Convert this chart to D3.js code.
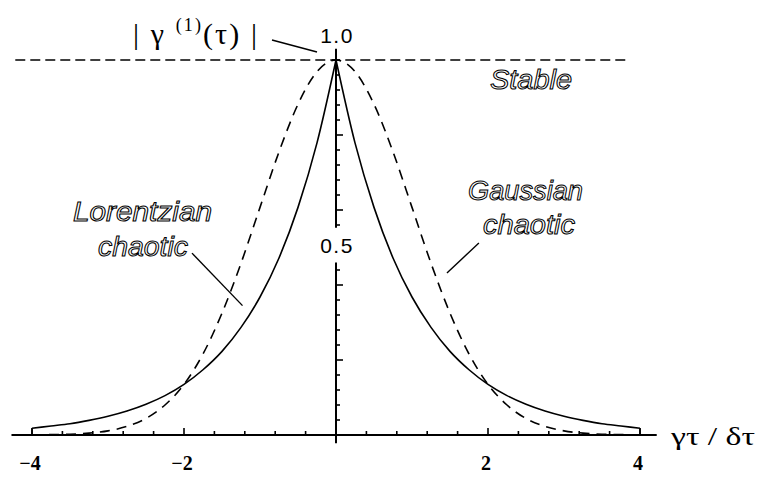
<!DOCTYPE html>
<html>
<head>
<meta charset="utf-8">
<script src="https://cdn.jsdelivr.net/npm/d3@7"></script>
<style>
html,body{margin:0;padding:0;background:#fff;}
svg{display:block;}
</style>
</head>
<body>
<svg id="chart" width="767" height="477"></svg>
<script>
// ---- data ----
const tauValues = [-4,-3.75,-3.5,-3.25,-3,-2.75,-2.5,-2.25,-2,-1.75,-1.5,-1.25,-1,-0.75,-0.5,-0.25,0,
                   0.25,0.5,0.75,1,1.25,1.5,1.75,2,2.25,2.5,2.75,3,3.25,3.5,3.75,4];
const lorentzianValues = [0.018,0.024,0.030,0.039,0.050,0.064,0.082,0.105,0.135,0.174,0.223,0.287,0.368,0.472,0.607,0.779,1.0,
                          0.779,0.607,0.472,0.368,0.287,0.223,0.174,0.135,0.105,0.082,0.064,0.050,0.039,0.030,0.024,0.018];
const gaussianValues = [0.000,0.001,0.002,0.005,0.011,0.023,0.044,0.080,0.135,0.216,0.325,0.458,0.607,0.755,0.882,0.969,1.0,
                        0.969,0.882,0.755,0.607,0.458,0.325,0.216,0.135,0.080,0.044,0.023,0.011,0.005,0.002,0.001,0.000];
const stableValue = 1.0;
const xTickLabels = [-4,-2,2,4];
const yTickLabels = [0.5,1.0];

const svg = d3.select("#chart");
const x = d3.scaleLinear().domain([-4,4]).range([32,640]);
const y = d3.scaleLinear().domain([0,1]).range([435,60]);

const lor = tauValues.map((t,i)=>({t, v: lorentzianValues[i]}));
const gau = tauValues.map((t,i)=>({t, v: gaussianValues[i]}));

const line = d3.line().x(d=>x(d.t)).y(d=>y(d.v)).curve(d3.curveMonotoneX);

// Stable (dashed horizontal)
svg.append("line")
  .attr("x1", x(-4.22)).attr("x2", x(3.87))
  .attr("y1", y(stableValue)).attr("y2", y(stableValue))
  .attr("stroke","#000").attr("stroke-width",1.6).attr("stroke-dasharray","10,5");

// x axis line
svg.append("line").attr("x1", x(-4.27)).attr("x2", x(4.22))
  .attr("y1", y(0)).attr("y2", y(0)).attr("stroke","#000").attr("stroke-width",2);

// x ticks (every 0.4)
const xt = d3.range(-10,11).map(k=>k*0.4).filter(t=>Math.abs(t)>1e-9);
svg.selectAll(".xt").data(xt).enter().append("line")
  .attr("x1", d=>x(d)).attr("x2", d=>x(d))
  .attr("y1", y(0)).attr("y2", d=> (Math.abs(Math.round(d/2)*2 - d) < 1e-6) ? y(0)-7 : y(0)-4)
  .attr("stroke","#000").attr("stroke-width",1.6);

// y axis (broken around 0.5 label)
svg.append("line").attr("x1", x(0)).attr("x2", x(0))
  .attr("y1", y(1.03)).attr("y2", y(0.553)).attr("stroke","#000").attr("stroke-width",2);
svg.append("line").attr("x1", x(0)).attr("x2", x(0))
  .attr("y1", y(0.46)).attr("y2", y(-0.022)).attr("stroke","#000").attr("stroke-width",2);

// y ticks every 0.04
const yt = d3.range(1,26).map(k=>k*0.04).filter(v=>!(v>0.46 && v<0.553) && v<0.99);
svg.selectAll(".yt").data(yt).enter().append("line")
  .attr("x1", x(0)).attr("x2", d=> (Math.abs(Math.round(d/0.2)*0.2 - d) < 1e-6) ? x(0)+7 : x(0)+4)
  .attr("y1", d=>y(d)).attr("y2", d=>y(d))
  .attr("stroke","#000").attr("stroke-width",1.6);
// tick at 1.0 (cross)
svg.append("line").attr("x1", x(0)-4).attr("x2", x(0)+4)
  .attr("y1", y(1)).attr("y2", y(1)).attr("stroke","#000").attr("stroke-width",1.6);

// Gaussian chaotic (dashed)
svg.append("path").datum(gau).attr("d", line)
  .attr("fill","none").attr("stroke","#000").attr("stroke-width",1.6).attr("stroke-dasharray","10,7");

// Lorentzian chaotic (solid), drawn as two halves to keep the cusp
const left = lor.filter(d=>d.t<=0), right = lor.filter(d=>d.t>=0);
[left,right].forEach(h=>{
  svg.append("path").datum(h).attr("d", line)
    .attr("fill","none").attr("stroke","#000").attr("stroke-width",1.6);
});
// end drops to axis
[lor[0], lor[lor.length-1]].forEach(d=>{
  svg.append("line").attr("x1", x(d.t)).attr("x2", x(d.t))
    .attr("y1", y(d.v)).attr("y2", y(0)).attr("stroke","#000").attr("stroke-width",1.6);
});

// x tick labels
svg.selectAll(".xl").data(xTickLabels).enter().append("text")
  .attr("x", d=>x(d)-2).attr("y", 470)
  .attr("text-anchor","middle")
  .attr("font-family","Liberation Serif, serif").attr("font-size",20).attr("font-weight","bold")
  .text(d=> d<0 ? "\u2212"+Math.abs(d) : String(d));

// y tick labels
svg.selectAll(".yl").data(yTickLabels).enter().append("text")
  .attr("x", d=>x(0)+1).attr("y", d=> d===1 ? y(d)-17 : y(d)+5)
  .attr("text-anchor","middle")
  .attr("font-family","Liberation Sans, Arial, sans-serif").attr("font-size",21).attr("letter-spacing",1.5)
  .text(d=>d.toFixed(1));

// axis label
svg.append("text").attr("x",671).attr("y",445)
  .attr("font-family","Liberation Serif, serif").attr("font-size",25)
  .attr("textLength",84).attr("lengthAdjust","spacingAndGlyphs")
  .text("\u03b3\u03c4 / \u03b4\u03c4");

// title |γ(1)(τ)|
const tt = svg.append("text").attr("x",133).attr("y",44)
  .attr("font-family","Liberation Serif, serif").attr("font-size",30)
  .attr("textLength",124).attr("lengthAdjust","spacing");
tt.append("tspan").text("| \u03b3 ");
tt.append("tspan").attr("font-size",18).attr("dy",-13).text("(1)");
tt.append("tspan").attr("dy",13).text("(\u03c4) |");
// title leader
svg.append("line").attr("x1",272).attr("y1",40).attr("x2",317).attr("y2",52)
  .attr("stroke","#000").attr("stroke-width",1.6);

// italic hollow annotation labels
function lab(txt, xx, yy, len){
  svg.append("text").attr("x",xx).attr("y",yy)
    .attr("font-family","Liberation Sans, Arial, sans-serif").attr("font-style","italic")
    .attr("font-size",27).attr("fill","#fff").attr("stroke","#000").attr("stroke-width",1)
    .attr("textLength",len).attr("lengthAdjust","spacingAndGlyphs")
    .text(txt);
}
lab("Stable", 490, 89, 82);
lab("Lorentzian", 73, 221, 139);
lab("chaotic", 98, 256, 90);
lab("Gaussian", 468, 200, 115);
lab("chaotic", 483, 234, 92);

// leader lines (in data units)
const leaders = [
  {a:[-1.895,0.485], b:[-1.23,0.345]},
  {a:[1.88,0.512], b:[1.46,0.432]}
];
leaders.forEach(l=>{
  svg.append("line").attr("x1",x(l.a[0])).attr("y1",y(l.a[1]))
    .attr("x2",x(l.b[0])).attr("y2",y(l.b[1]))
    .attr("stroke","#000").attr("stroke-width",1.4);
});
</script>
</body>
</html>
